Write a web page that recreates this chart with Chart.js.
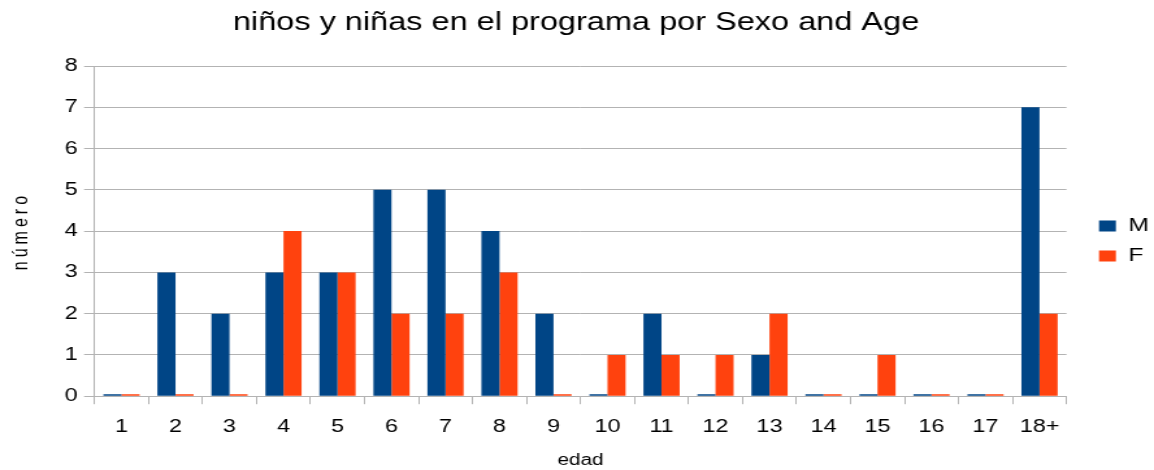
<!DOCTYPE html>
<html>
<head>
<meta charset="utf-8">
<script src="https://cdn.jsdelivr.net/npm/chart.js@4"></script>
<style>
  html, body { margin: 0; padding: 0; background: #fff; overflow: hidden; }
  #chart { display: block; }
</style>
</head>
<body>
<!-- the original image is stretched horizontally, so draw narrower and stretch with CSS -->
<canvas id="chart" width="888" height="470" style="width:1154px;height:470px"></canvas>
<script>
// edades
const ages = ["1", "2", "3", "4", "5", "6", "7", "8", "9", "10", "11", "12", "13", "14", "15", "16", "17", "18+"];
// valores por sexo
const valuesM = [0, 3, 2, 3, 3, 5, 5, 4, 2, 0, 2, 0, 1, 0, 0, 0, 0, 7];
const valuesF = [0, 0, 0, 4, 3, 2, 2, 3, 0, 1, 1, 1, 2, 0, 1, 0, 0, 2];
const yTicks = [0, 1, 2, 3, 4, 5, 6, 7, 8];

const font = "'Liberation Sans', Arial, sans-serif";
const gridColor = "#b3b3b3";

// mover la leyenda un poco a la derecha y abajo, como en el original
const legendShift = {
    id: "legendShift",
    afterLayout(chart) {
        const lg = chart.legend;
        if (!lg) return;
        lg.left += 14; lg.right += 14;
        lg.top += 4; lg.bottom += 4;
    },
    beforeDraw(chart) {
        // título del eje y con letras espaciadas
        const ys = chart.scales.y;
        if (ys && !ys._spaced) {
            const orig = ys.drawTitle;
            ys.drawTitle = function () {
                this.ctx.save();
                this.ctx.letterSpacing = "4px";
                orig.apply(this, arguments);
                this.ctx.restore();
            };
            ys._spaced = true;
        }
    },
};

new Chart(document.getElementById("chart"), {
    type: "bar",
    data: {
        labels: ages,
        datasets: [
            { label: "M", data: valuesM, backgroundColor: "#004586", minBarLength: 2 },
            { label: "F", data: valuesF, backgroundColor: "#ff420e", minBarLength: 2 },
        ],
    },
    plugins: [legendShift],
    options: {
        responsive: false,
        maintainAspectRatio: false,
        animation: false,
        devicePixelRatio: 1,
        layout: { padding: { left: 6.5, right: 8, top: 4, bottom: 0 } },
        datasets: { bar: { categoryPercentage: 0.67, barPercentage: 1.0 } },
        scales: {
            x: {
                grid: { color: gridColor, drawOnChartArea: false, offset: true, tickLength: 8 },
                border: { color: gridColor },
                ticks: { color: "#000", font: { family: font, size: 18 }, padding: 12 },
                title: { display: true, text: "edad", color: "#000", font: { family: font, size: 16 }, padding: { top: 1, bottom: 0 } },
            },
            y: {
                min: 0,
                max: 8,
                afterBuildTicks: (axis) => { axis.ticks = yTicks.map((v) => ({ value: v })); },
                grid: { color: gridColor, tickLength: 8 },
                border: { color: gridColor },
                ticks: { color: "#000", font: { family: font, size: 18 }, padding: 5 },
                title: { display: true, text: "número", color: "#000", font: { family: font, size: 16 }, padding: { top: 0, bottom: 19 } },
            },
        },
        plugins: {
            title: {
                display: true,
                text: "niños y niñas en el programa por Sexo and Age",
                color: "#000",
                font: { family: font, size: 25, weight: "normal" },
                padding: { top: 4, bottom: 28 },
            },
            legend: {
                position: "right",
                labels: {
                    color: "#000",
                    font: { family: font, size: 19 },
                    boxWidth: 13,
                    boxHeight: 11,
                    padding: 11,
                },
            },
            tooltip: { enabled: false },
        },
    },
});
</script>
</body>
</html>
